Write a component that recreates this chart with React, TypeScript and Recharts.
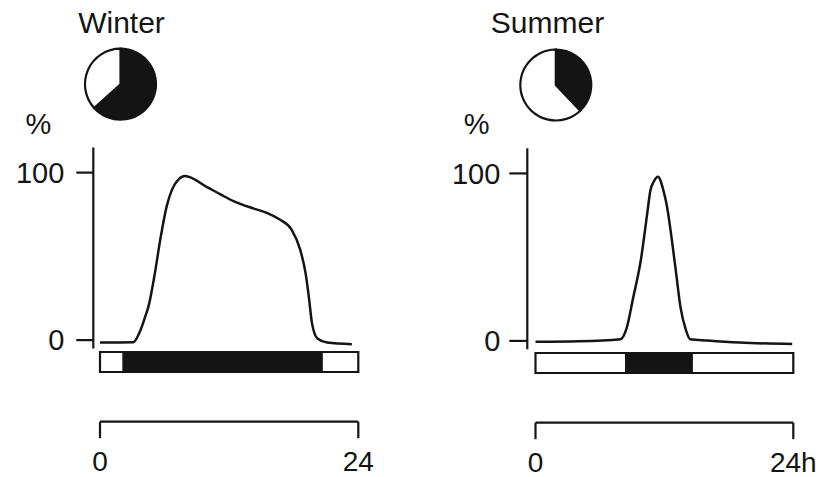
import React from 'react';
import { LineChart, Line, XAxis, YAxis, BarChart, Bar, PieChart, Pie, Cell } from 'recharts';

const FONT = '"Liberation Sans", Arial, Helvetica, sans-serif';
const INK = '#141414';

// ---- data ----
const winterHours = [0, 3.1, 3.7, 4.2, 4.5, 5.1, 5.6, 6.2, 6.7, 7.3, 7.9, 9.9, 11.2, 12.4, 14.3, 15.5, 16.7, 17.8, 18.6, 19.1, 19.4, 19.7, 20.2, 21.1, 23.4];
const winterValues = [-1.4, -1.2, 5, 14, 20, 40, 60, 80, 90, 96, 98, 91.5, 87, 83, 78.5, 76, 72, 66, 54, 40, 26, 10, 1, -1.4, -2.4];

const summerHours = [0, 4, 7.9, 8.5, 9.1, 9.8, 10.4, 10.7, 11.0, 11.4, 11.9, 12.25, 12.7, 13.1, 13.5, 14.0, 14.4, 16.0, 19.0, 23.9];
const summerValues = [-0.5, -0.2, 1, 8, 26, 48, 76, 90, 95, 98, 90, 80, 60, 40, 20, 6.6, 1, 0.2, -1, -1.8];

const yTicks = [0, 100];
const xTicks = [0, 24];
const winterXTickLabels = ['0', '24'];
const summerXTickLabels = ['0', '24h'];

// photoperiod bar: light, dark, light (hours)
const winterPhotoperiod = [2.2, 18.4, 3.4];
const summerPhotoperiod = [8.45, 6.1, 9.45];

// pie: dark hours, light hours
const winterPie = [15.2, 8.8];
const summerPie = [9.1, 14.9];

const titles = ['Winter', 'Summer'];

type PanelProps = {
  title: string;
  hours: number[];
  values: number[];
  xLabels: string[];
  photoperiod: number[];
  pie: number[];
  titleX: number;
  pctX: number;
  pieCx: number;
  pieCy: number;
  axisX: number; // y-axis line x
  dataLeft: number; // x of 0h
  dataRight: number; // x of 24h
  plotTop: number;
  plotBottom: number;
  barTop: number;
  bracketY: number;
  tickSize: number;
  tickMargin: number;
};

const W = 819;
const H = 477;

const abs: React.CSSProperties = { position: 'absolute', left: 0, top: 0 };

function Panel(p: PanelProps) {
  const lineData = p.hours.map((h, i) => ({ h, v: p.values[i] }));
  const barData = [{ name: 'photoperiod', l1: p.photoperiod[0], d: p.photoperiod[1], l2: p.photoperiod[2] }];
  const pieData = [
    { name: 'dark', value: p.pie[0] },
    { name: 'light', value: p.pie[1] },
  ];
  const yAxisWidth = 60;
  const xAxisHeight = 55;
  return (
    <>
      <div style={{ ...abs, left: p.titleX - 100, top: 7.9, width: 200, textAlign: 'center', fontFamily: FONT, fontSize: 30, lineHeight: '30px', color: INK }}>
        {p.title}
      </div>
      <div style={{ ...abs, left: p.pctX - 30, top: 110, width: 60, textAlign: 'center', fontFamily: FONT, fontSize: 29, lineHeight: '29px', color: INK }}>
        %
      </div>
      <div style={abs}>
        <PieChart width={W} height={H} margin={{ top: 0, left: 0, right: 0, bottom: 0 }}>
          <Pie
            data={pieData}
            dataKey="value"
            cx={p.pieCx}
            cy={p.pieCy}
            innerRadius={0}
            outerRadius={35.5}
            startAngle={90}
            endAngle={-270}
            stroke={INK}
            strokeWidth={2.2}
            isAnimationActive={false}
          >
            <Cell fill={INK} />
            <Cell fill="#ffffff" />
          </Pie>
        </PieChart>
      </div>
      <div style={abs}>
        <LineChart
          width={W}
          height={H}
          data={lineData}
          margin={{ top: p.plotTop, bottom: H - p.plotBottom, left: p.axisX - yAxisWidth, right: W - p.dataRight }}
        >
          <XAxis dataKey="h" type="number" domain={[0, 24]} hide padding={{ left: p.dataLeft - p.axisX, right: 0 }} />
          <YAxis
            type="number"
            domain={[-5, 115]}
            ticks={yTicks}
            width={yAxisWidth}
            allowDataOverflow
            interval={0}
            tickSize={p.tickSize}
            tickMargin={p.tickMargin}
            axisLine={{ stroke: INK, strokeWidth: 2.2 }}
            tickLine={{ stroke: INK, strokeWidth: 2.2 }}
            tick={{ fill: INK, fontSize: 29, fontFamily: FONT }}
          />
          <Line type="monotone" dataKey="v" stroke={INK} strokeWidth={2.5} dot={false} isAnimationActive={false} />
        </LineChart>
      </div>
      <div style={abs}>
        <BarChart
          width={W}
          height={H}
          data={barData}
          layout="vertical"
          barCategoryGap={0}
          margin={{ top: p.barTop, bottom: H - p.bracketY - xAxisHeight, left: p.dataLeft, right: W - p.dataRight }}
        >
          <XAxis
            type="number"
            domain={[0, 24]}
            ticks={xTicks}
            interval={0}
            height={xAxisHeight}
            tickSize={16.5}
            tickMargin={13}
            tickFormatter={(v: number) => p.xLabels[xTicks.indexOf(v)] ?? String(v)}
            axisLine={{ stroke: INK, strokeWidth: 2.2 }}
            tickLine={{ stroke: INK, strokeWidth: 2.2 }}
            tick={{ fill: INK, fontSize: 28, fontFamily: FONT }}
          />
          <YAxis type="category" dataKey="name" hide padding={{ top: 0, bottom: p.bracketY - p.barTop - 20 }} />
          <Bar dataKey="l1" stackId="p" fill="#ffffff" stroke={INK} strokeWidth={2.2} isAnimationActive={false} />
          <Bar dataKey="d" stackId="p" fill={INK} stroke={INK} strokeWidth={2.2} isAnimationActive={false} />
          <Bar dataKey="l2" stackId="p" fill="#ffffff" stroke={INK} strokeWidth={2.2} isAnimationActive={false} />
        </BarChart>
      </div>
    </>
  );
}

export default function App() {
  return (
    <div style={{ position: 'absolute', left: 0, top: 0, width: W, height: H, background: '#ffffff', overflow: 'hidden' }}>
      <Panel
        title={titles[0]}
        hours={winterHours}
        values={winterValues}
        xLabels={winterXTickLabels}
        photoperiod={winterPhotoperiod}
        pie={winterPie}
        titleX={121.5}
        pctX={38.3}
        pieCx={120.5}
        pieCy={84.2}
        axisX={93.3}
        dataLeft={100}
        dataRight={358.3}
        plotTop={147.5}
        plotBottom={348.5}
        barTop={352}
        bracketY={421.7}
        tickSize={17}
        tickMargin={12}
      />
      <Panel
        title={titles[1]}
        hours={summerHours}
        values={summerValues}
        xLabels={summerXTickLabels}
        photoperiod={summerPhotoperiod}
        pie={summerPie}
        titleX={547.5}
        pctX={476.7}
        pieCx={555.8}
        pieCy={85}
        axisX={527.3}
        dataLeft={535.5}
        dataRight={793.3}
        plotTop={148.3}
        plotBottom={349.3}
        barTop={353}
        bracketY={422.7}
        tickSize={18}
        tickMargin={9}
      />
    </div>
  );
}
